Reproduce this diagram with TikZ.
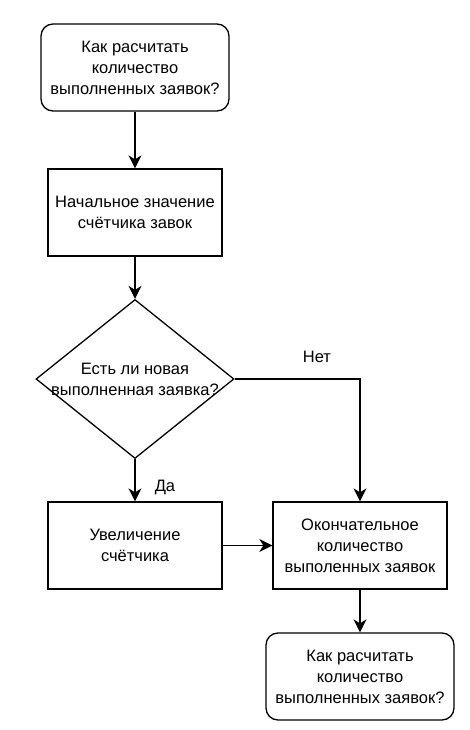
\documentclass[tikz,border=0pt]{standalone}
\usepackage{fontspec}
\setmainfont{Liberation Sans}
\usetikzlibrary{shapes.geometric,arrows.meta}
\begin{document}
\begin{tikzpicture}
[x=1pt,y=-1pt,%
 boxstyle/.style={draw,line width=1.3pt,minimum width=174pt,minimum height=87pt,align=center,inner sep=0pt},%
 termstyle/.style={boxstyle,rounded corners=12pt,minimum width=188pt},%
 decstyle/.style={draw,line width=1.3pt,diamond,minimum width=198pt,minimum height=159pt,inner sep=0pt},%
 linestyle/.style={line width=1.3pt,-{Stealth[length=13pt,width=13pt,inset=4pt]}},%
 font=\fontsize{16.5}{21}\selectfont]
\useasboundingbox (0,0) rectangle (470,730);
%% blocks
\node[termstyle] (start) at (135,67.5) {Как расчитать\\количество\\выполненных заявок?};
\node[boxstyle] (init) at (135,212.5) {Начальное значение\\счётчика завок};
\node[decstyle] (dec) at (135,379) {};
\node[align=center] (dectext) at (dec) {Есть ли новая\\выполненная заявка?};
\node[boxstyle] (inc) at (135,545.5) {Увеличение\\счётчика};
\node[boxstyle] (final) at (360,545.5) {Окончательное\\количество\\выполенных заявок};
\node[termstyle] (end) at (360,676.5) {Как расчитать\\количество\\выполненных заявок?};
%% connectors
\draw[linestyle] (start) -- (init);
\draw[linestyle] (init) -- (dec.north);
\draw[linestyle] (dec.south) -- (inc);
\draw[linestyle] (dec.east) -| (final);
\draw[linestyle] (inc) -- (final);
\draw[linestyle] (final) -- (end);
%% labels
\node (yes) at (165,487) {Да};
\node (no) at (317,357) {Нет};
\end{tikzpicture}
\end{document}
